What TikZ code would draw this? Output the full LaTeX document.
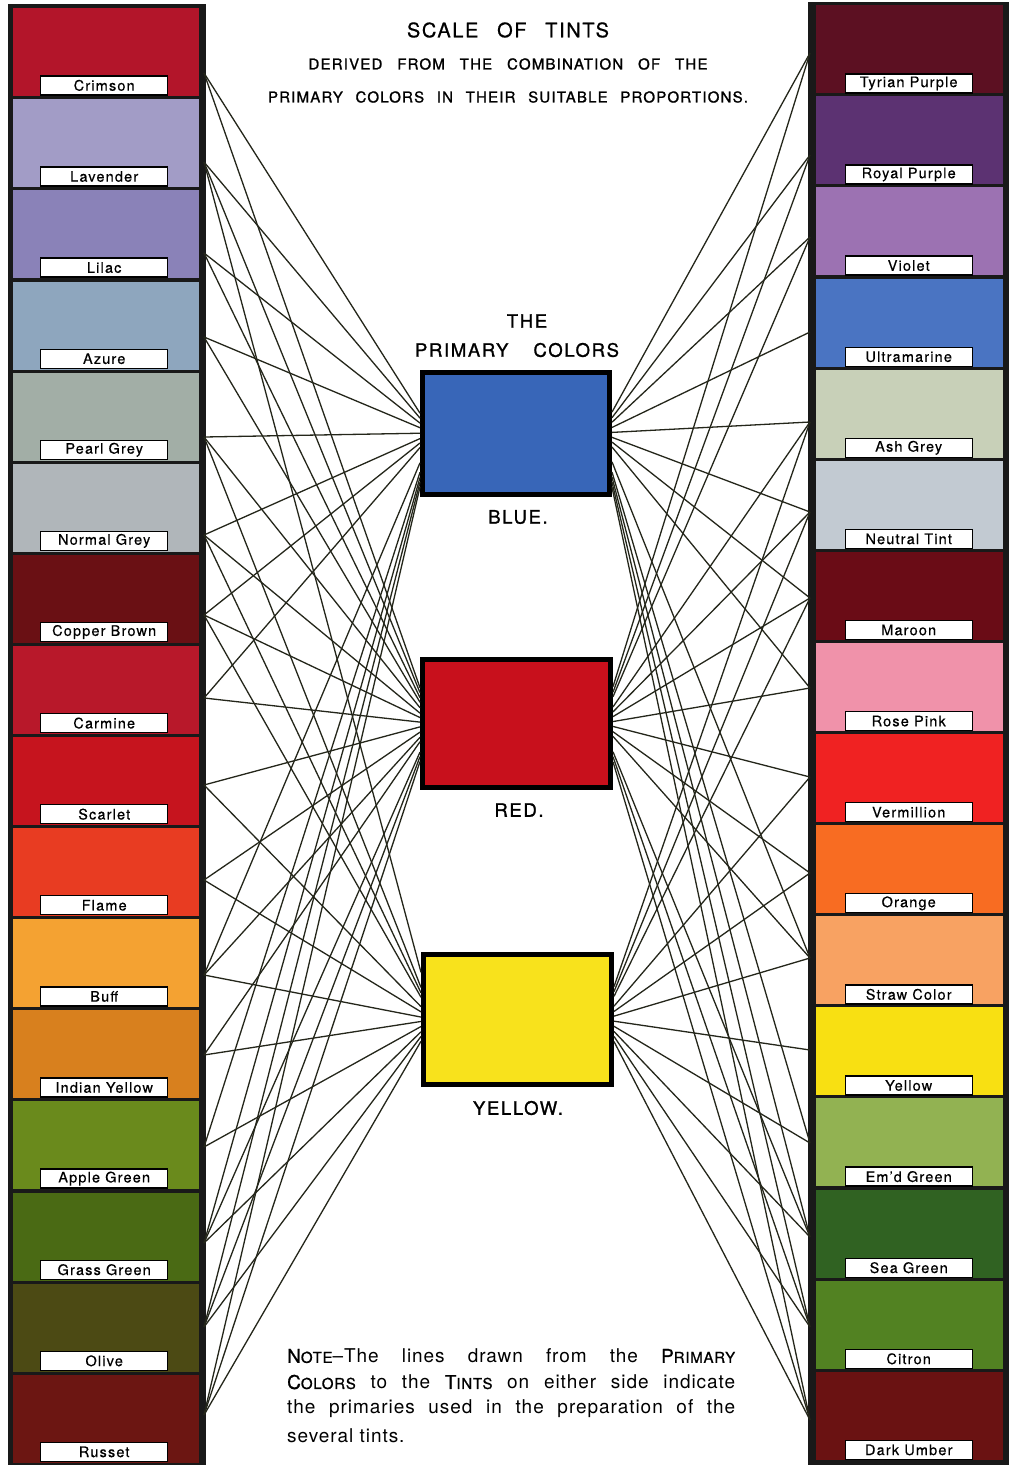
\documentclass[tikz,border=0pt]{standalone}
\usepackage{fontspec}
\setmainfont{TeX Gyre Heros}
\usetikzlibrary{calc}
\definecolor{linec}{HTML}{24261A}
\definecolor{pblue}{HTML}{3866B8}
\definecolor{pred}{HTML}{C8101C}
\definecolor{pyellow}{HTML}{F8E21C}
% left tints
\definecolor{cCrimson}{HTML}{B3152A}
\definecolor{cLavender}{HTML}{A29CC6}
\definecolor{cLilac}{HTML}{8A82B8}
\definecolor{cAzure}{HTML}{8EA6BE}
\definecolor{cPearl}{HTML}{A2AEA6}
\definecolor{cNormal}{HTML}{B0B6BA}
\definecolor{cCopper}{HTML}{6A1014}
\definecolor{cCarmine}{HTML}{B8182A}
\definecolor{cScarlet}{HTML}{C6141E}
\definecolor{cFlame}{HTML}{E83C22}
\definecolor{cBuff}{HTML}{F4A232}
\definecolor{cIndian}{HTML}{D8801E}
\definecolor{cApple}{HTML}{6A8A1C}
\definecolor{cGrass}{HTML}{4A6A14}
\definecolor{cOlive}{HTML}{4C4A14}
\definecolor{cRusset}{HTML}{6C1612}
% right tints
\definecolor{cTyrian}{HTML}{5C1022}
\definecolor{cRoyal}{HTML}{5C3272}
\definecolor{cViolet}{HTML}{9C72B2}
\definecolor{cUltra}{HTML}{4A74C2}
\definecolor{cAsh}{HTML}{C8D0B8}
\definecolor{cNeutral}{HTML}{C2CAD2}
\definecolor{cMaroon}{HTML}{6A0C16}
\definecolor{cRose}{HTML}{F092AA}
\definecolor{cVerm}{HTML}{F02222}
\definecolor{cOrange}{HTML}{F86C22}
\definecolor{cStraw}{HTML}{F8A262}
\definecolor{cYellow}{HTML}{F8E012}
\definecolor{cEmd}{HTML}{92B252}
\definecolor{cSea}{HTML}{306222}
\definecolor{cCitron}{HTML}{528222}
\definecolor{cUmber}{HTML}{6A1212}
\tikzset{
  swl/.style={rectangle, inner sep=0pt, minimum width=186pt, minimum height=88pt, anchor=north west, draw=none},
  swr/.style={rectangle, inner sep=0pt, minimum width=187pt, minimum height=88pt, anchor=north west, draw=none},
  lab/.style={rectangle, draw=black, fill=white, line width=1.3pt, inner sep=0pt, minimum width=127pt, minimum height=19pt,
    font=\fontsize{14.5}{14.5}\selectfont\addfontfeatures{LetterSpace=8,FakeBold=0.4}},
  conn/.style={line width=1.3pt, draw=linec},
  prim/.style={rectangle, draw=black, line width=5pt, inner sep=0pt},
  ptext/.style={font=\fontsize{18.5}{18.5}\selectfont\addfontfeatures{LetterSpace=9,FakeBold=1.2}},
  ttext/.style={font=\fontsize{15}{15}\selectfont\addfontfeatures{LetterSpace=8,FakeBold=1.2}},
  ntext/.style={anchor=west, inner sep=0pt, font=\fontsize{19}{20}\selectfont\addfontfeatures{LetterSpace=5}},
}
\newcommand{\notesml}[1]{{\fontsize{15}{15}\selectfont\addfontfeatures{FakeBold=1}#1}}
\newcommand{\notecap}[1]{{\addfontfeatures{FakeBold=1}#1}}
\begin{document}
\begin{tikzpicture}[x=1pt,y=-1pt]
\fill[white] (0,0) rectangle (1015,1467);
\useasboundingbox (0,0) rectangle (1015,1467);
% columns
\fill[black!90] (8,4) rectangle (206,1465);
\fill[black!90] (808,2) rectangle (1009,1465);
% left swatches
\foreach \i/\c in {1/cCrimson,2/cLavender,3/cLilac,4/cAzure,5/cPearl,6/cNormal,7/cCopper,8/cCarmine,
  9/cScarlet,10/cFlame,11/cBuff,12/cIndian,13/cApple,14/cGrass,15/cOlive,16/cRusset}{
  \node[swl, fill=\c] (s\i) at (13,{8+91.1*(\i-1)}) {};
}
\foreach \i/\c in {1/cTyrian,2/cRoyal,3/cViolet,4/cUltra,5/cAsh,6/cNeutral,7/cMaroon,8/cRose,
  9/cVerm,10/cOrange,11/cStraw,12/cYellow,13/cEmd,14/cSea,15/cCitron,16/cUmber}{
  \node[swr, fill=\c] (r\i) at (816,{5+91.1*(\i-1)}) {};
}
% labels left
\foreach \i/\t in {1/Crimson,2/Lavender,3/Lilac,4/Azure,5/Pearl Grey,6/Normal Grey,7/Copper Brown,8/Carmine,
  9/Scarlet,10/Flame,11/Buff,12/Indian Yellow,13/Apple Green,14/Grass Green,15/Olive,16/Russet}{
  \node[lab] (ll\i) at ($(s\i.south)+(-2,-11)$) {\t};
}
\foreach \i/\t in {1/Tyrian Purple,2/Royal Purple,3/Violet,4/Ultramarine,5/Ash Grey,6/Neutral Tint,7/Maroon,8/Rose Pink,
  9/Vermillion,10/Orange,11/Straw Color,12/Yellow,13/Em'd Green,14/Sea Green,15/Citron,16/Dark Umber}{
  \node[lab] (rl\i) at ($(r\i.south)+(-1,-10)$) {\t};
}
% title
\node[font=\fontsize{20}{20}\selectfont\addfontfeatures{LetterSpace=8,FakeBold=0.6}] (title) at (508,30) {\makebox[202pt][s]{SCALE OF TINTS}};
\node[ttext] (sub1) at (508,64) {\makebox[399pt][s]{DERIVED FROM THE COMBINATION OF THE}};
\node[ttext] (sub2) at (508,97) {\makebox[480pt][s]{PRIMARY COLORS IN THEIR SUITABLE PROPORTIONS.}};
\node[ptext] (the) at (527,321) {THE};
\node[ptext] (pc) at (517,350) {\makebox[204pt][s]{PRIMARY\ \ COLORS}};
% primaries
\node[prim, fill=pblue, minimum width=187pt, minimum height=122pt] (blue) at (516,433) {};
\node[prim, fill=pred, minimum width=188pt, minimum height=128pt] (red) at (516.5,723.5) {};
\node[prim, fill=pyellow, minimum width=188pt, minimum height=130pt] (yellow) at (517.5,1019.5) {};
\node[ptext] (bl) at (518,517) {BLUE.};
\node[ptext] (rl) at (519,810) {RED.};
\node[ptext] (yl) at (518,1108) {YELLOW.};
% source points
\foreach \i/\y in {1/73,2/162,3/253,4/337,5/437,6/535,7/615,8/698,9/785,10/880,11/975,12/1055,13/1147,14/1243,15/1327,16/1415}{
  \coordinate (A\i) at (204,\y);
}
\foreach \i/\y in {1/53,2/155,3/237,4/332,5/422,6/512,7/598,8/688,9/777,10/873,11/958,12/1050,13/1143,14/1237,15/1327,16/1420}{
  \coordinate (B\i) at (810,\y);
}
% connectors left
\foreach \n/\t in {A1/blue,A1/red,
  A2/blue,A2/red,A2/yellow,
  A3/blue,A3/red,
  A4/blue,A4/red,
  A5/blue,A5/red,A5/yellow,
  A6/blue,A6/red,A6/yellow,
  A7/blue,A7/red,A7/yellow,
  A8/blue,A8/red,
  A9/red,A9/yellow,
  A10/red,A10/yellow,
  A11/blue,A11/red,A11/yellow,
  A12/red,A12/yellow,
  A13/blue,A13/yellow,
  A14/blue,A14/red,A14/yellow,
  A15/blue,A15/red,A15/yellow,
  A16/blue,A16/red,A16/yellow}{
  \draw[conn] (\n) -- ($(\t.west)!0.055!(\t.west |- \n)$);
}
% connectors right
\foreach \n/\t in {B1/blue,B1/red,
  B2/blue,B2/red,
  B3/blue,B3/red,
  B4/blue,
  B5/blue,B5/red,B5/yellow,
  B6/blue,B6/red,B6/yellow,
  B7/blue,B7/red,B7/yellow,
  B8/blue,B8/red,
  B9/red,B9/yellow,
  B10/red,B10/yellow,
  B11/blue,B11/red,B11/yellow,
  B12/yellow,
  B13/blue,B13/yellow,
  B14/blue,B14/red,B14/yellow,
  B15/blue,B15/red,B15/yellow,
  B16/blue,B16/red,B16/yellow}{
  \draw[conn] (\n) -- ($(\t.east)!0.055!(\t.east |- \n)$);
}
% note
\node[ntext] (n1) at (287,1356) {\makebox[448pt][s]{\notecap{N}\notesml{OTE}--The lines drawn from the \notecap{P}\notesml{RIMARY}}};
\node[ntext] (n2) at (287,1382) {\makebox[448pt][s]{\notecap{C}\notesml{OLORS} to the \notecap{T}\notesml{INTS} on either side indicate}};
\node[ntext] (n3) at (287,1409) {\makebox[448pt][s]{the primaries used in the preparation of the}};
\node[ntext] (n4) at (287,1436) {several tints.};
\end{tikzpicture}
\end{document}
